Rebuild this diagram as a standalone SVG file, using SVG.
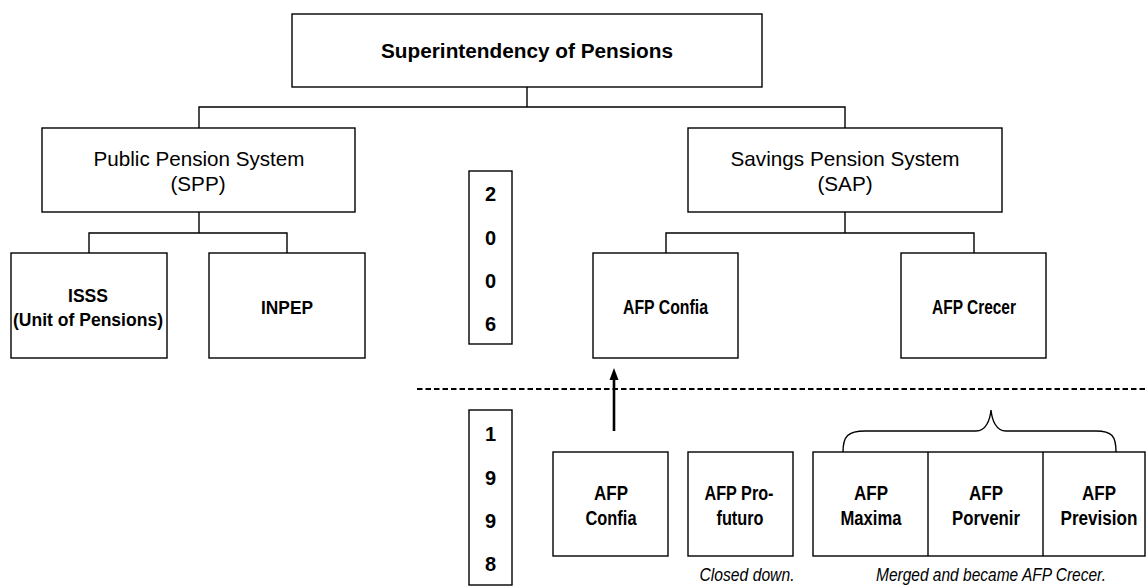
<svg xmlns="http://www.w3.org/2000/svg" width="1146" height="588" viewBox="0 0 1146 588">
<style>
.box{fill:#fff;stroke:#000;stroke-width:1.4}
.ln{fill:none;stroke:#000;stroke-width:1.4}
.w{font-family:"Liberation Sans",Arial,sans-serif;font-size:20.7px;fill:#000;text-anchor:middle}
.b{font-weight:bold}
.m{font-family:"Liberation Sans",Arial,sans-serif;font-size:17.5px;font-weight:bold;fill:#000;text-anchor:middle}
.n{font-family:"Liberation Sans",Arial,sans-serif;font-size:20px;font-weight:bold;fill:#000;text-anchor:middle}
.yr{font-family:"Liberation Sans",Arial,sans-serif;font-size:20px;font-weight:bold;fill:#000;text-anchor:middle}
.it{font-family:"Liberation Sans",Arial,sans-serif;font-size:19px;font-style:italic;fill:#000;text-anchor:middle}
</style>
<g id="connectors">
<path class="ln" d="M527,87 V107 M199,128 V107 H845 V128"/>
<path class="ln" d="M199,212 V233 M89,253 V233 H287 V253"/>
<path class="ln" d="M845,212 V233 M666,253 V233 H974 V253"/>
<line x1="417" y1="389" x2="1146" y2="389" stroke="#000" stroke-width="2.2" stroke-dasharray="5.5,3"/>
<line x1="614" y1="431" x2="614" y2="378" stroke="#000" stroke-width="2.6"/>
<path d="M614,368 L618.5,380 L609.5,380 z" fill="#000"/>
<path class="ln" d="M843,452 C843,436 848,431 865,431 H976 C986,431 990,420 991,410 C992,420 996,431 1006,431 H1096 C1112,431 1116,436 1116,452"/>
</g>
<g id="superintendency">
<rect class="box" x="292" y="14" width="470" height="73"/>
<text class="w b" x="527" y="58" textLength="292" lengthAdjust="spacingAndGlyphs">Superintendency of Pensions</text>
</g>
<g id="spp">
<rect class="box" x="42" y="128" width="313" height="84"/>
<text class="w" x="199" y="166" textLength="211" lengthAdjust="spacingAndGlyphs">Public Pension System</text>
<text class="w" x="198" y="191">(SPP)</text>
</g>
<g id="sap">
<rect class="box" x="688" y="128" width="314" height="84"/>
<text class="w" x="845" y="166" textLength="229" lengthAdjust="spacingAndGlyphs">Savings Pension System</text>
<text class="w" x="845" y="191">(SAP)</text>
</g>
<g id="year2006">
<rect class="box" x="469" y="171" width="43" height="173"/>
<text class="yr" x="490.5" y="201">2</text>
<text class="yr" x="490.5" y="245">0</text>
<text class="yr" x="490.5" y="288">0</text>
<text class="yr" x="490.5" y="331">6</text>
</g>
<g id="isss">
<rect class="box" x="11" y="253" width="156" height="105"/>
<text class="m" x="88" y="302" textLength="40" lengthAdjust="spacingAndGlyphs">ISSS</text>
<text class="m" x="88" y="326" textLength="150" lengthAdjust="spacingAndGlyphs">(Unit of Pensions)</text>
</g>
<g id="inpep">
<rect class="box" x="209" y="253" width="156" height="105"/>
<text class="m" x="287" y="314" textLength="52" lengthAdjust="spacingAndGlyphs">INPEP</text>
</g>
<g id="afp-confia-2006">
<rect class="box" x="593" y="253" width="145" height="105"/>
<text class="n" x="665.5" y="314" textLength="85" lengthAdjust="spacingAndGlyphs">AFP Confia</text>
</g>
<g id="afp-crecer">
<rect class="box" x="901" y="253" width="145" height="105"/>
<text class="n" x="974" y="314" textLength="84" lengthAdjust="spacingAndGlyphs">AFP Crecer</text>
</g>
<g id="year1998">
<rect class="box" x="469" y="410" width="43" height="175"/>
<text class="yr" x="490.5" y="441">1</text>
<text class="yr" x="490.5" y="485">9</text>
<text class="yr" x="490.5" y="528">9</text>
<text class="yr" x="490.5" y="571">8</text>
</g>
<g id="afp-confia-1998">
<rect class="box" x="553" y="452" width="115" height="104"/>
<text class="n" x="611" y="500" textLength="34" lengthAdjust="spacingAndGlyphs">AFP</text>
<text class="n" x="611" y="525" textLength="51" lengthAdjust="spacingAndGlyphs">Confia</text>
</g>
<g id="afp-profuturo">
<rect class="box" x="688" y="452" width="105" height="104"/>
<text class="n" x="739" y="500" textLength="69" lengthAdjust="spacingAndGlyphs">AFP Pro-</text>
<text class="n" x="740" y="525" textLength="47" lengthAdjust="spacingAndGlyphs">futuro</text>
<text class="it" x="747" y="581" textLength="95" lengthAdjust="spacingAndGlyphs">Closed down.</text>
</g>
<g id="afp-merged">
<rect class="box" x="813" y="452" width="332" height="104"/>
<line class="ln" x1="928" y1="452" x2="928" y2="556"/>
<line class="ln" x1="1043" y1="452" x2="1043" y2="556"/>
<text class="n" x="871" y="500" textLength="34" lengthAdjust="spacingAndGlyphs">AFP</text>
<text class="n" x="871" y="525" textLength="61" lengthAdjust="spacingAndGlyphs">Maxima</text>
<text class="n" x="986" y="500" textLength="34" lengthAdjust="spacingAndGlyphs">AFP</text>
<text class="n" x="986" y="525" textLength="68" lengthAdjust="spacingAndGlyphs">Porvenir</text>
<text class="n" x="1099" y="500" textLength="34" lengthAdjust="spacingAndGlyphs">AFP</text>
<text class="n" x="1099" y="525" textLength="77" lengthAdjust="spacingAndGlyphs">Prevision</text>
<text class="it" x="991" y="581" textLength="230" lengthAdjust="spacingAndGlyphs">Merged and became AFP Crecer.</text>
</g>
</svg>
